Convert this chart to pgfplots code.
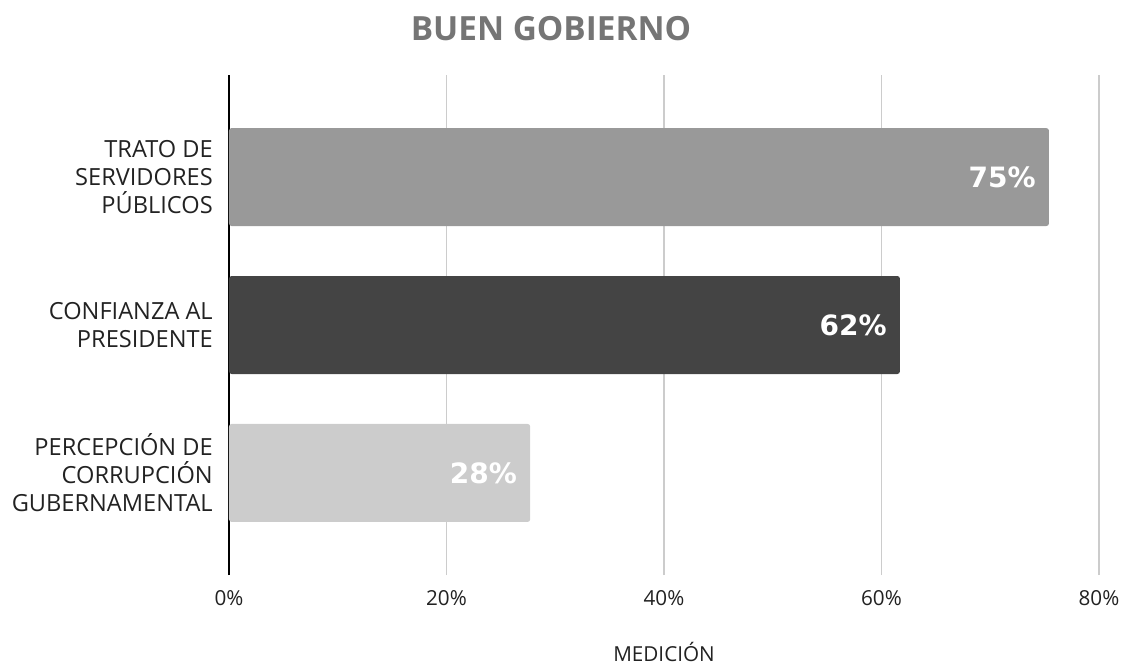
\documentclass[border=0pt]{standalone}
\usepackage{pgfplots}
\pgfplotsset{compat=1.18}
\usepackage{fontspec}
\setmainfont{Open Sans}
\newfontfamily\dv{DejaVu Sans}
\definecolor{barA}{HTML}{999999}
\definecolor{barB}{HTML}{444444}
\definecolor{barC}{HTML}{CCCCCC}
\definecolor{gridc}{HTML}{CCCCCC}
\definecolor{titlec}{HTML}{757575}
\definecolor{txt}{HTML}{222222}
\begin{document}
\begin{tikzpicture}
\path[use as bounding box] (-171.75pt,-67.5pt) rectangle (669pt,431.25pt);
\begin{axis}[
  at={(0pt,0pt)}, anchor=south west,
  width=652.5pt, height=375pt, scale only axis,
  xbar, bar width=73.5pt,
  xmin=0, xmax=80, ymin=-0.69, ymax=2.69,
  xtick={0,20,40,60,80},
  xticklabel={\pgfmathprintnumber{\tick}\%},
  /pgf/number format/assume math mode=true,
  ytick={0,1,2},
  yticklabels={{PERCEPCIÓN DE\\CORRUPCIÓN\\GUBERNAMENTAL},{CONFIANZA AL\\PRESIDENTE},{TRATO DE\\SERVIDORES\\PÚBLICOS}},
  axis lines=left,
  axis line style={-},
  x axis line style={draw=none},
  y axis line style={black, line width=1.1pt},
  major tick length=0pt,
  xmajorgrids,
  major grid style={gridc, line width=1.2pt},
  xticklabel style={font=\fontsize{15.5}{18}\selectfont, text=txt, anchor=base, yshift=-23pt},
  yticklabel style={font=\fontsize{17.7}{21}\selectfont, text=txt, align=right, anchor=east, inner sep=0pt, xshift=-12pt},
  xlabel={MEDICIÓN},
  xlabel style={font=\fontsize{15.5}{18}\selectfont, text=txt, at={(axis description cs:0.5,0)}, anchor=base, yshift=-64.5pt},
  point meta=x,
  nodes near coords={\pgfmathprintnumber[fixed,precision=0]{\pgfplotspointmeta}\%},
  every node near coord/.append style={anchor=east, xshift=-6.5pt, text=white, font=\dv\bfseries\fontsize{21}{24}\selectfont},
  clip=false,
]
\addplot[fill=barC, draw=none, bar shift=0pt, rounded corners=2pt] coordinates {(27.7,0)};
\addplot[fill=barB, draw=none, bar shift=0pt, rounded corners=2pt] coordinates {(61.7,1)};
\addplot[fill=barA, draw=none, bar shift=0pt, rounded corners=2pt] coordinates {(75.4,2)};
\node[font=\bfseries\fontsize{25}{30}\selectfont, text=titlec, anchor=center] at ([xshift=-84.75pt, yshift=34.9pt]axis description cs:0.5,1) {BUEN GOBIERNO};
\end{axis}
\end{tikzpicture}
\end{document}
